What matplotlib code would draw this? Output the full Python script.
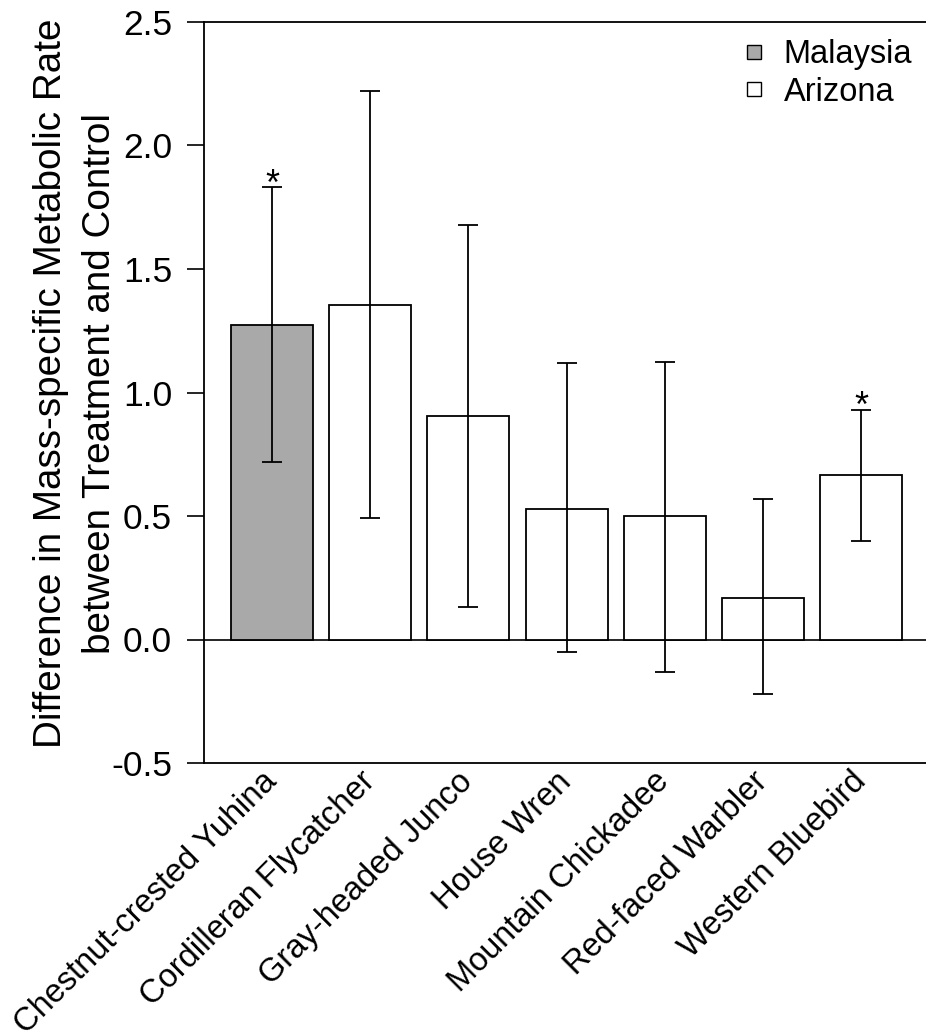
import matplotlib
matplotlib.use("Agg")
import matplotlib.pyplot as plt
from matplotlib.lines import Line2D
import numpy as np

plt.rcParams['font.family'] = ['Liberation Sans', 'DejaVu Sans']

species = ["Chestnut-crested Yuhina", "Cordilleran Flycatcher", "Gray-headed Junco",
           "House Wren", "Mountain Chickadee", "Red-faced Warbler", "Western Bluebird"]
means = [1.275, 1.355, 0.905, 0.53, 0.50, 0.17, 0.665]
err_low = [0.72, 0.49, 0.13, -0.05, -0.13, -0.22, 0.40]
err_high = [1.83, 2.22, 1.68, 1.12, 1.125, 0.57, 0.93]
region = ["Malaysia", "Arizona", "Arizona", "Arizona", "Arizona", "Arizona", "Arizona"]
significant = [True, False, False, False, False, False, True]
yticks = [-0.5, 0.0, 0.5, 1.0, 1.5, 2.0, 2.5]

colors = {"Malaysia": "#a9a9a9", "Arizona": "white"}

W, H = 926, 1032
fig = plt.figure(figsize=(W / 100, H / 100), dpi=100)
left_px, right_px, top_px, bottom_px = 204, 945, 22, 763
axw = right_px - left_px
axh = bottom_px - top_px
ax = fig.add_axes([left_px / W, 1 - bottom_px / H, axw / W, axh / H])

x = np.arange(len(species))
means_a = np.array(means)
lo = means_a - np.array(err_low)
hi = np.array(err_high) - means_a

ax.axhline(0, color='black', lw=1.2, zorder=1)
ax.bar(x, means, width=0.835, color=[colors[r] for r in region], edgecolor='black', linewidth=1.3, zorder=2)
ax.errorbar(x, means, yerr=[lo, hi], fmt='none', ecolor='black', elinewidth=1.3,
            capsize=7.5, capthick=1.3, zorder=3)

for xi, s, h in zip(x, significant, err_high):
    if s:
        ax.text(xi, h - 0.03, "*", ha='center', va='baseline', fontsize=26)

ax.set_ylim(-0.5, 2.5)
ax.set_yticks(yticks)
ax.set_yticklabels([f"{t:.1f}" for t in yticks], fontsize=25.5)
ax.set_xlim(-0.692, -0.692 + axw / 98.2)
ax.set_xticks(x)
ax.set_xticklabels(species, rotation=45, ha='right', va='center', rotation_mode='anchor', fontsize=23.5)
ax.tick_params(axis='x', length=0, pad=10)
ax.tick_params(axis='y', direction='out', length=12, width=1.2, pad=11)
for sp in ax.spines.values():
    sp.set_linewidth(1.3)

ax.set_ylabel("Difference in Mass-specific Metabolic Rate\nbetween Treatment and Control",
              fontsize=27.8, linespacing=1.45)
ax.yaxis.set_label_coords((118 - left_px) / axw, (bottom_px - 383) / axh)

handles = [Line2D([], [], marker='s', linestyle='none', markerfacecolor=colors[k],
                  markeredgecolor='black', markersize=10, markeredgewidth=1.0) for k in ["Malaysia", "Arizona"]]
leg = ax.legend(handles, ["Malaysia", "Arizona"], loc='upper right',
                bbox_to_anchor=((925 - left_px) / axw, (bottom_px - 26) / axh),
                frameon=False, fontsize=23.5, handletextpad=0.4, labelspacing=0.2,
                handlelength=1.0, borderaxespad=0)

fig.savefig("out.png", dpi=100)
